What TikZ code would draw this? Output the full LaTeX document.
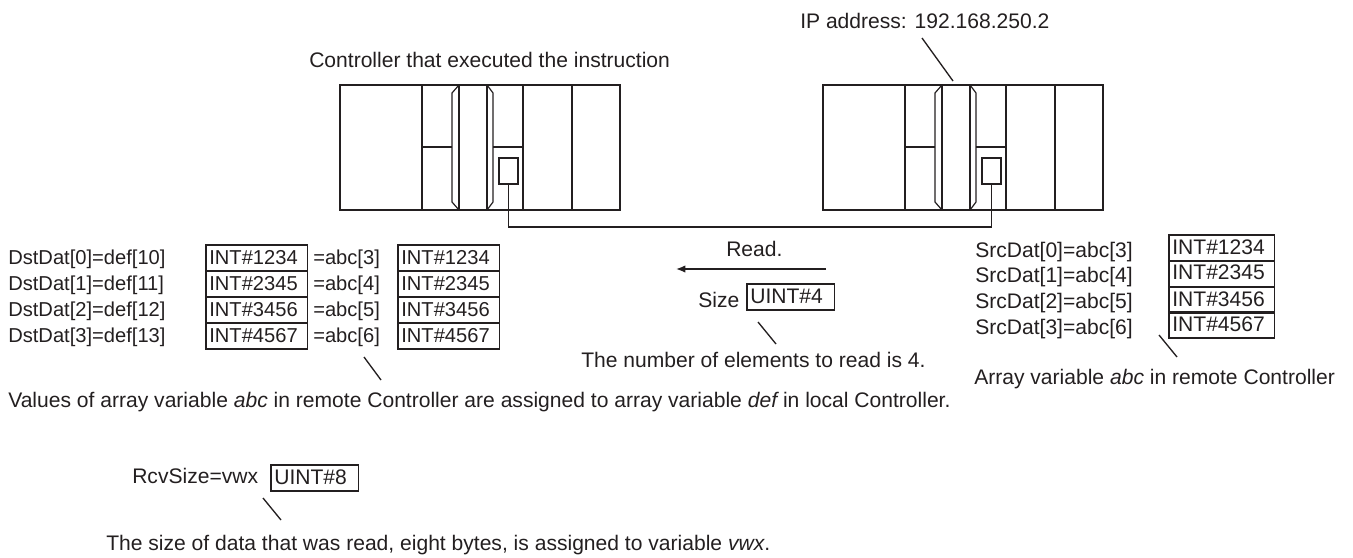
\documentclass[tikz,border=0pt]{standalone}
\usepackage{fontspec}
\setmainfont{Liberation Sans}
\usepackage{xcolor}
\definecolor{Ink}{HTML}{231F20}
\usetikzlibrary{arrows.meta,positioning}

\begin{document}
\begin{tikzpicture}[
  x=0.75pt,y=-0.75pt,
  every node/.style={text=Ink,font=\fontsize{15.8pt}{18pt}\selectfont},
  narrow/.style={font=\fontsize{15.1pt}{18pt}\selectfont},
  note/.style={anchor=base west,inner sep=0pt},
  valbox/.style={draw=Ink,line width=1.2pt,anchor=north west,inner xsep=2.5pt,inner ysep=0pt,outer sep=0pt,align=left,text width=71pt,minimum height=19.5pt,text height=9pt,text depth=0pt},
  srcbox/.style={valbox,text width=74pt},
  sizebox/.style={valbox,text width=60.5pt},
  portbox/.style={draw=Ink,line width=1.3pt,inner sep=0pt,outer sep=0pt,minimum width=14.25pt,minimum height=19.5pt},
  unitline/.style={draw=Ink,line width=1.3pt},
  thinline/.style={draw=Ink,line width=0.9pt},
  wire/.style={draw=Ink,line width=1.3pt},
  leader/.style={draw=Ink,line width=1pt},
  arrow/.style={-{Latex[length=7pt,width=5.5pt]},draw=Ink,line width=1pt}
]
  \useasboundingbox (0,0) rectangle (1353,557);

  % controllers
  \foreach \ctrl/\ox in {local/0,remote/483}{
    \begin{scope}[shift={(\ox,0)}]
      \draw[unitline] (340,85) rectangle (620,210);
      \draw[unitline] (422,85) -- (422,210);
      \draw[unitline] (523,85) -- (523,210);
      \draw[unitline] (572,85) -- (572,210);
      \draw[unitline] (459,85) rectangle (487,210);
      \draw[thinline] (459,85) -- (452,93) -- (452,202) -- (459,210);
      \draw[thinline] (487,85) -- (493,93) -- (493,202) -- (487,210);
      \draw[thinline] (422,147) -- (452,147);
      \draw[thinline] (493,147) -- (523,147);
      \node[portbox] (\ctrl port) at (508.5,171) {};
    \end{scope}
  }
  \coordinate (wirelevel) at (0,227);
  \draw[wire] (localport.south) |- (remoteport.south |- wirelevel) -- (remoteport.south);

  \node[note] (iplabel) at (800,28) {IP address: 192.168.250.2};
  \node[note] (ctrllabel) at (309,67) {Controller that executed the instruction};
  \coordinate (ipfrom) at (922,38);
  \coordinate (ipto) at (953,81);
  \draw[leader] (ipfrom) -- (ipto);

  % local variables
  \foreach \i/\name/\base/\top/\val/\src in {
    0/def[10]/264/245/1234/3,
    1/def[11]/290/271/2345/4,
    2/def[12]/316/297/3456/5,
    3/def[13]/342/323/4567/6}{
    \node[note,narrow] (dst\i) at (8,\base) {DstDat[\i]=\name};
    \node[valbox,narrow] (dstval\i) at (206,\top) {INT\#\val};
    \node[note,narrow] (abc\i) at (313,\base) {=abc[\src]};
    \node[valbox,narrow] (abcval\i) at (398,\top) {INT\#\val};
  }
  \coordinate (valfrom) at (364,357);
  \coordinate (valto) at (381,380);
  \draw[leader] (valfrom) -- (valto);
  \node[note] (vallabel) at (8,407) {Values of array variable {\itshape abc} in remote Controller are assigned to array variable {\itshape def} in local Controller.};

  % read arrow and size
  \node[note] (readlabel) at (726,256) {Read.};
  \coordinate (readfrom) at (826,269);
  \coordinate (readto) at (676,269);
  \draw[arrow] (readfrom) -- (readto);
  \node[note] (sizelabel) at (698,307) {Size};
  \node[sizebox] (sizeval) at (747,284) {UINT\#4};
  \coordinate (sizefrom) at (758,322);
  \coordinate (sizeto) at (776,344);
  \draw[leader] (sizefrom) -- (sizeto);
  \node[note] (sizenote) at (581,367) {The number of elements to read is 4.};

  % remote variables
  \foreach \i/\base/\top/\val/\src in {
    0/257/235/1234/3,
    1/282/260.5/2345/4,
    2/308/287/3456/5,
    3/334/312/4567/6}{
    \node[note] (src\i) at (975,\base) {SrcDat[\i]=abc[\src]};
    \node[srcbox] (srcval\i) at (1169,\top) {INT\#\val};
  }
  \coordinate (srcfrom) at (1159,335);
  \coordinate (srcto) at (1177,357);
  \draw[leader] (srcfrom) -- (srcto);
  \node[note] (srclabel) at (974,384) {Array variable {\itshape abc} in remote Controller};

  % received size
  \node[note] (rcvlabel) at (132,483) {RcvSize=vwx};
  \node[sizebox] (rcvval) at (271,465) {UINT\#8};
  \coordinate (rcvfrom) at (263,498);
  \coordinate (rcvto) at (281,520);
  \draw[leader] (rcvfrom) -- (rcvto);
  \node[note] (rcvnote) at (106,550) {The size of data that was read, eight bytes, is assigned to variable {\itshape vwx}.};
\end{tikzpicture}
\end{document}
